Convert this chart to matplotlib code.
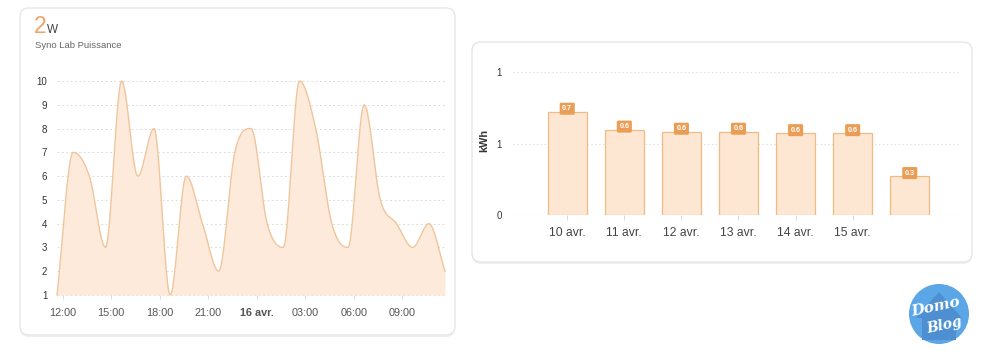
import numpy as np
import pandas as pd
import matplotlib
matplotlib.use("Agg")
import matplotlib.pyplot as plt
import matplotlib.dates as mdates
from matplotlib.patches import FancyBboxPatch, Circle, Polygon

plt.rcParams['font.family'] = ['Liberation Sans', 'DejaVu Sans']

# ---------------- data ----------------
power_times = ["2023-04-15 11:39", "2023-04-15 12:39", "2023-04-15 13:39", "2023-04-15 14:39",
               "2023-04-15 15:39", "2023-04-15 16:39", "2023-04-15 17:39", "2023-04-15 18:39",
               "2023-04-15 19:39", "2023-04-15 20:39", "2023-04-15 21:39", "2023-04-15 22:39",
               "2023-04-15 23:39", "2023-04-16 00:39", "2023-04-16 01:39", "2023-04-16 02:39",
               "2023-04-16 03:39", "2023-04-16 04:39", "2023-04-16 05:39", "2023-04-16 06:39",
               "2023-04-16 07:39", "2023-04-16 08:39", "2023-04-16 09:39", "2023-04-16 10:39",
               "2023-04-16 11:39"]
power_values = [1, 7, 6, 3, 10, 6, 8, 1, 6, 4, 2, 7, 8, 4, 3, 10, 8, 4, 3, 9, 5, 4, 3, 4, 2]
power_tick_times = ["2023-04-15 12:00", "2023-04-15 15:00", "2023-04-15 18:00", "2023-04-15 21:00",
                    "2023-04-16 00:00", "2023-04-16 03:00", "2023-04-16 06:00", "2023-04-16 09:00"]
power_tick_labels = ["12:00", "15:00", "18:00", "21:00", "16 avr.", "03:00", "06:00", "09:00"]
power_yticks = [1, 2, 3, 4, 5, 6, 7, 8, 9, 10]

state_value = "2"
state_unit = "W"
card_title = "Syno Lab Puissance"

energy_days = ["10 avr.", "11 avr.", "12 avr.", "13 avr.", "14 avr.", "15 avr.", ""]
energy_values = [0.72, 0.595, 0.58, 0.58, 0.57, 0.57, 0.27]
energy_labels = ["0.7", "0.6", "0.6", "0.6", "0.6", "0.6", "0.3"]
energy_yticks = [0, 0.5, 1.0]
energy_ytick_labels = ["0", "1", "1"]
energy_unit = "kWh"

# ---------------- helpers ----------------
def monotone_curve(x, y, per=24):
    x = np.asarray(x, float); y = np.asarray(y, float)
    h = np.diff(x); d = np.diff(y) / h
    m = np.zeros_like(y)
    m[0] = d[0]; m[-1] = d[-1]
    for k in range(1, len(y) - 1):
        m[k] = 0.0 if d[k - 1] * d[k] <= 0 else (d[k - 1] + d[k]) / 2
    for k in range(len(d)):
        if d[k] == 0:
            m[k] = m[k + 1] = 0
        else:
            a = m[k] / d[k]; b = m[k + 1] / d[k]
            s = a * a + b * b
            if s > 9:
                t = 3 / np.sqrt(s)
                m[k] = t * a * d[k]; m[k + 1] = t * b * d[k]
    xs, ys = [], []
    for k in range(len(d)):
        t = np.linspace(0, 1, per, endpoint=False)
        h00 = 2 * t**3 - 3 * t**2 + 1; h10 = t**3 - 2 * t**2 + t
        h01 = -2 * t**3 + 3 * t**2; h11 = t**3 - t**2
        xs.append(x[k] + t * h[k])
        ys.append(h00 * y[k] + h10 * h[k] * m[k] + h01 * y[k + 1] + h11 * h[k] * m[k + 1])
    xs.append([x[-1]]); ys.append([y[-1]])
    return np.concatenate(xs), np.concatenate(ys)

W, H = 986, 360
fig = plt.figure(figsize=(W / 100, H / 100), dpi=100)
fig.patch.set_facecolor("white")

bg = fig.add_axes([0, 0, 1, 1], zorder=0)
bg.set_xlim(0, W); bg.set_ylim(H, 0); bg.axis("off")

def card(x0, y0, x1, y1):
    sh = FancyBboxPatch((x0, y0 + 2), x1 - x0, y1 - y0, boxstyle="round,pad=0,rounding_size=9",
                        fc="#efefef", ec="none", zorder=0)
    bg.add_patch(sh)
    p = FancyBboxPatch((x0, y0), x1 - x0, y1 - y0, boxstyle="round,pad=0,rounding_size=9",
                       fc="white", ec="#e4e4e4", lw=0.9, zorder=1)
    bg.add_patch(p)

card(20, 8, 455, 335)
card(472, 42, 972, 262)

# header
bg.text(34, 33, state_value, fontsize=16.5, color="#f0a46a", ha="left", va="baseline", zorder=2)
bg.text(47, 33, state_unit, fontsize=8.5, color="#444444", ha="left", va="baseline", zorder=2)
bg.text(35, 48, card_title, fontsize=6.8, color="#666666", ha="left", va="baseline", zorder=2)

# ---------------- left: power area chart ----------------
L, R, T, B = 57, 445, 81, 295
ax1 = fig.add_axes([L / W, 1 - B / H, (R - L) / W, (B - T) / H], zorder=2)
ax1.patch.set_alpha(0)
tx = mdates.date2num(pd.to_datetime(power_times))
cx, cy = monotone_curve(tx, power_values)
ax1.fill_between(cx, cy, 1, color="#fdeadb", lw=0, zorder=2)
ax1.plot(cx, cy, color="#efc59c", lw=1.0, zorder=3, clip_on=False)
ax1.set_xlim(tx[0], tx[-1])
ax1.set_ylim(1, 10)
ax1.set_yticks(power_yticks)
ax1.set_yticklabels([str(v) for v in power_yticks])
for v in power_yticks:
    ax1.axhline(v, color="#dddddd", lw=0.7, ls=(0, (2, 2.5)), zorder=1, clip_on=False)
ttx = mdates.date2num(pd.to_datetime(power_tick_times))
ax1.set_xticks(ttx)
ax1.set_xticklabels(power_tick_labels)
for lab in ax1.get_xticklabels():
    if "avr" in lab.get_text():
        lab.set_fontweight("bold"); lab.set_color("#222222")
for s in ax1.spines.values():
    s.set_visible(False)
ax1.tick_params(axis="y", length=0, pad=7, labelsize=7, labelcolor="#333333")
ax1.tick_params(axis="x", length=3, width=0.6, color="#d5d5d5", pad=6, labelsize=7.8, labelcolor="#555555")

# ---------------- right: energy bar chart ----------------
L2, R2, T2, B2 = 513, 960, 72, 215
ax2 = fig.add_axes([L2 / W, 1 - B2 / H, (R2 - L2) / W, (B2 - T2) / H], zorder=2)
ax2.patch.set_alpha(0)
xpos = np.arange(len(energy_days))
ax2.bar(xpos, energy_values, width=0.69, color="#fde7d3", edgecolor="#efbb84", lw=0.9, zorder=3)
ax2.set_xlim(-0.95, len(energy_days) - 0.12)
ax2.set_ylim(0, 1.0)
ax2.set_yticks(energy_yticks)
ax2.set_yticklabels(energy_ytick_labels)
for v in energy_yticks[1:]:
    ax2.axhline(v, color="#dddddd", lw=0.7, ls=(0, (1.5, 2.5)), zorder=1, clip_on=False)
ax2.axhline(0, color="#e0e0e0", lw=0.8, zorder=2)
ax2.set_xticks(xpos[:-1])
ax2.set_xticklabels(energy_days[:-1])
for s in ax2.spines.values():
    s.set_visible(False)
ax2.tick_params(axis="y", length=0, pad=8, labelsize=7, labelcolor="#333333")
ax2.tick_params(axis="x", length=3.5, width=0.6, color="#d5d5d5", pad=5, labelsize=8.7, labelcolor="#444444")
for xp, v, lab in zip(xpos, energy_values, energy_labels):
    ax2.annotate(lab, (xp, v), xytext=(0, 2.4), textcoords="offset points", ha="center", va="center",
                 fontsize=5.2, color="white", fontweight="bold", zorder=5,
                 bbox=dict(boxstyle="round,pad=0.35,rounding_size=0.2", fc="#ea9d55", ec="none"))
bg.text(484, 141, energy_unit, rotation=90, fontsize=7.8, fontweight="bold", color="#333333",
        ha="center", va="center", zorder=2)

# ---------------- logo ----------------
ov = fig.add_axes([0, 0, 1, 1], zorder=4)
ov.set_xlim(0, W); ov.set_ylim(H, 0); ov.axis("off"); ov.patch.set_alpha(0)
ov.add_patch(Circle((939, 314), 31.5, fc="white", ec="none"))
ov.add_patch(Circle((939, 314), 30, fc="#5ba6e6", ec="none"))
ov.add_patch(Polygon([(916, 318), (939, 292), (962, 318), (956, 318), (956, 340), (922, 340), (922, 318)],
                     closed=True, fc="#4d8fd0", ec="none"))
ov.text(936, 307, "Domo", fontsize=11, color="white", style="italic", fontweight="bold",
        ha="center", va="center", rotation=12, family="DejaVu Serif")
ov.text(944, 325, "Blog", fontsize=10, color="white", style="italic", fontweight="bold",
        ha="center", va="center", rotation=12, family="DejaVu Serif")

fig.savefig("out.png", dpi=100, facecolor="white")
